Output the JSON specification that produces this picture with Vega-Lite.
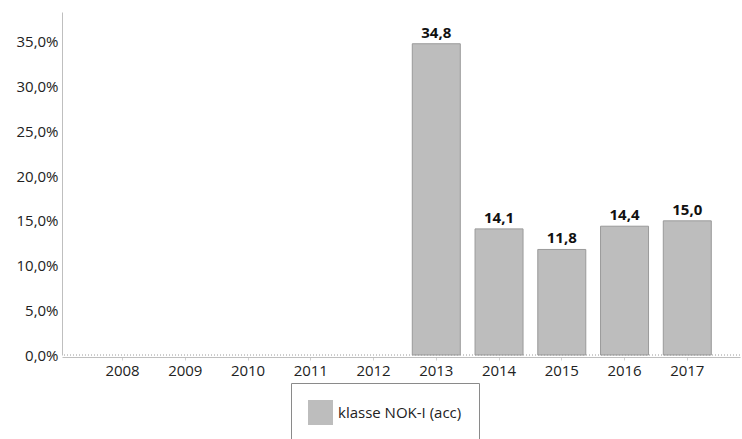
{
  "$schema": "https://vega.github.io/schema/vega-lite/v6.json",
  "width": 678,
  "height": 343,
  "autosize": {"type": "none"},
  "padding": {"left": 62, "top": 12, "right": 2, "bottom": 84},
  "background": "white",
  "config": {
    "locale": {"number": {"decimal": ",", "thousands": ".", "grouping": [3], "currency": ["", " €"]}},
    "font": "Open Sans",
    "view": {"stroke": null}
  },
  "data": {
    "values": [
      {"year": "2008", "pct": null},
      {"year": "2009", "pct": null},
      {"year": "2010", "pct": null},
      {"year": "2011", "pct": null},
      {"year": "2012", "pct": null},
      {"year": "2013", "pct": 34.8},
      {"year": "2014", "pct": 14.1},
      {"year": "2015", "pct": 11.8},
      {"year": "2016", "pct": 14.4},
      {"year": "2017", "pct": 15.0}
    ]
  },
  "encoding": {
    "x": {
      "field": "year",
      "type": "ordinal",
      "scale": {"domain": ["2008","2009","2010","2011","2012","2013","2014","2015","2016","2017"], "paddingInner": 0.235, "paddingOuter": 0.52, "align": 0.56},
      "axis": {
        "title": null,
        "labelAngle": 0,
        "labelFontSize": 15,
        "labelColor": "#222222",
        "labelPadding": 3,
        "domainColor": "#bfbfbf",
        "domainWidth": 1,
        "tickColor": "#d0d0d0",
        "tickSize": 3,
        "offset": 2
      }
    },
    "y": {
      "field": "pct",
      "type": "quantitative",
      "scale": {"domain": [0, 38.35], "nice": false, "zero": true},
      "axis": {
        "title": null,
        "values": [0, 5, 10, 15, 20, 25, 30, 35],
        "format": ".1f",
        "labelExpr": "datum.label + '%'",
        "labelFontSize": 15,
        "labelColor": "#222222",
        "labelPadding": 4,
        "ticks": false,
        "grid": false,
        "domainColor": "#bfbfbf",
        "domainWidth": 1
      }
    }
  },
  "layer": [
    {
      "mark": {"type": "bar", "stroke": "#9a9a9a", "strokeWidth": 1},
      "encoding": {
        "color": {
          "datum": "klasse NOK-I (acc)",
          "type": "nominal",
          "scale": {"range": ["#bdbdbd"]},
          "legend": {
            "title": null,
            "orient": "none",
            "legendX": 229,
            "legendY": 371,
            "symbolType": "square",
            "symbolSize": 625,
            "symbolStrokeWidth": 0,
            "symbolOpacity": 1,
            "labelFontSize": 15,
            "labelColor": "#222222",
            "labelOffset": 5,
            "padding": 17,
            "strokeColor": "#8a8a8a",
            "fillColor": "white"
          }
        }
      }
    },
    {
      "mark": {"type": "text", "dy": -11, "fontWeight": "bold", "fontSize": 15, "color": "#111111"},
      "encoding": {
        "text": {"field": "pct", "type": "quantitative", "format": ".1f"}
      }
    },
    {
      "data": {"values": [{"v": 0}]},
      "mark": {"type": "rule", "color": "#9a9a9a", "strokeDash": [1, 2], "strokeWidth": 1},
      "encoding": {
        "y": {"field": "v", "type": "quantitative"},
        "x": null
      }
    }
  ]
}
